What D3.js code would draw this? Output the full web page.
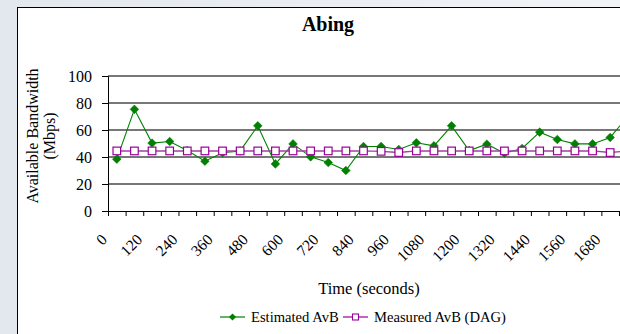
<!DOCTYPE html>
<html>
<head>
<meta charset="utf-8">
<script src="https://cdn.jsdelivr.net/npm/d3@7"></script>
<style>
  html, body { margin: 0; padding: 0; background: #e8ecf1; }
  svg { display: block; }
  text { font-family: "Liberation Serif", "Times New Roman", serif; fill: #000; }
</style>
</head>
<body>
<svg id="chart" width="620" height="334"></svg>
<script>
// Sampling times (seconds), one category per minute
const times = [0, 60, 120, 180, 240, 300, 360, 420, 480, 540, 600, 660, 720, 780, 840,
               900, 960, 1020, 1080, 1140, 1200, 1260, 1320, 1380, 1440, 1500, 1560, 1620, 1680, 1740];

// Available bandwidth estimated by Abing (Mbps)
const estimatedAvB = [38.4, 75.3, 50.3, 51.5, 44.8, 36.9, 43.1, 44.5, 63.1, 34.9,
                      49.7, 40.1, 35.9, 30.0, 47.8, 47.8, 45.6, 50.5, 48.3, 63.1,
                      44.8, 49.5, 42.8, 46.3, 58.4, 53.0, 49.7, 49.7, 54.5, 70.0];

// Available bandwidth measured with the DAG card (Mbps)
const measuredAvB = [44.5, 44.5, 44.5, 44.5, 44.5, 44.5, 44.5, 44.5, 44.5, 44.5,
                     44.5, 44.5, 44.5, 44.5, 44.5, 44.2, 43.3, 44.5, 44.5, 44.5,
                     44.5, 44.5, 44.5, 44.5, 44.5, 44.5, 44.5, 44.5, 43.3, 44.5];

const yTicks = [0, 20, 40, 60, 80, 100];
const xLabelEvery = 2;

const svg = d3.select("#chart");
const W = 620, H = 334;

// page background and chart frame
const defs = svg.append("defs");
const bg = defs.append("linearGradient").attr("id", "bg").attr("x1", 0).attr("x2", 1).attr("y1", 0).attr("y2", 0);
bg.append("stop").attr("offset", "0").attr("stop-color", "#e3e8ee");
bg.append("stop").attr("offset", "1").attr("stop-color", "#f1f4f7");
svg.append("rect").attr("width", W).attr("height", H).attr("fill", "url(#bg)");
svg.append("rect")
  .attr("x", 17.5).attr("y", 7.5).attr("width", 700).attr("height", 400)
  .attr("fill", "#fff").attr("stroke", "#000").attr("stroke-width", 1);

// plot geometry
const plotLeft = 108, plotTop = 76, plotBottom = 211;
const step = 17.62;
const plotRight = plotLeft + step * times.length;

const x = d3.scaleBand().domain(times).range([plotLeft, plotRight]).padding(0);
const xEdge = d3.scaleLinear().domain([0, times.length]).range([plotLeft, plotRight]);
const y = d3.scaleLinear().domain([0, 100]).range([plotBottom, plotTop]);
const cx = t => x(t) + x.bandwidth() / 2;

// horizontal gridlines
svg.append("g")
  .selectAll("line")
  .data(yTicks.filter(v => v > 0))
  .join("line")
  .attr("x1", plotLeft).attr("x2", plotRight)
  .attr("y1", d => y(d)).attr("y2", d => y(d))
  .attr("stroke", "#4a4a4a").attr("stroke-width", 1.4);

// y axis
const yAxis = svg.append("g")
  .attr("transform", `translate(${plotLeft},0)`)
  .call(d3.axisLeft(y).tickValues(yTicks).tickSize(6).tickPadding(10).tickFormat(d3.format("d")));
yAxis.select(".domain").attr("stroke", "#000");
yAxis.selectAll(".tick line").attr("stroke", "#000");
yAxis.selectAll("text")
  .style("font-family", '"Liberation Serif", serif')
  .style("font-size", "16px")
  .attr("fill", "#000");

// x axis: ticks on category boundaries
const xAxis = svg.append("g")
  .attr("transform", `translate(0,${plotBottom})`)
  .call(d3.axisBottom(xEdge).tickValues(d3.range(0, times.length + 1)).tickSize(5).tickFormat(""));
xAxis.select(".domain").attr("stroke", "#000");
xAxis.selectAll(".tick line").attr("stroke", "#000");

// rotated category labels
svg.append("g")
  .selectAll("text")
  .data(times.filter((t, i) => i % xLabelEvery === 0))
  .join("text")
  .attr("transform", d => `translate(${x(d)},${plotBottom + 29.5}) rotate(-45)`)
  .attr("text-anchor", "end")
  .style("font-size", "15.5px")
  .text(d => d);

// series lines and markers
const clip = defs.append("clipPath").attr("id", "plotclip");
clip.append("rect").attr("x", 0).attr("y", 0).attr("width", W).attr("height", H);

const line = d3.line().x(d => cx(d.t)).y(d => y(d.v));
const est = times.map((t, i) => ({ t, v: estimatedAvB[i] }));
const meas = times.map((t, i) => ({ t, v: measuredAvB[i] }));

const series = svg.append("g").attr("clip-path", "url(#plotclip)");

series.append("path")
  .datum(est)
  .attr("d", line)
  .attr("fill", "none")
  .attr("stroke", "#008000")
  .attr("stroke-width", 1.1);

const diamond = "M0,-4.3L4.3,0L0,4.3L-4.3,0Z";
series.append("g")
  .selectAll("path")
  .data(est)
  .join("path")
  .attr("d", diamond)
  .attr("transform", d => `translate(${cx(d.t)},${y(d.v)})`)
  .attr("fill", "#008000")
  .attr("stroke", "#008000")
  .attr("stroke-width", 0.6);

series.append("path")
  .datum(meas)
  .attr("d", line)
  .attr("fill", "none")
  .attr("stroke", "#a040a0")
  .attr("stroke-width", 1.4);

series.append("g")
  .selectAll("rect")
  .data(meas)
  .join("rect")
  .attr("x", d => cx(d.t) - 3.8)
  .attr("y", d => y(d.v) - 3.8)
  .attr("width", 7.6).attr("height", 7.6)
  .attr("fill", "#fff")
  .attr("stroke", "#990099")
  .attr("stroke-width", 1.2);

// titles
svg.append("text")
  .attr("x", 328).attr("y", 31)
  .attr("text-anchor", "middle")
  .style("font-size", "20px").style("font-weight", "bold")
  .text("Abing");

const yTitle = svg.append("text")
  .attr("transform", `translate(0,136) rotate(-90)`)
  .attr("text-anchor", "middle")
  .style("font-size", "16px");
yTitle.append("tspan").attr("x", 0).attr("y", 38).text("Available Bandwidth");
yTitle.append("tspan").attr("x", 0).attr("y", 55).text("(Mbps)");

svg.append("text")
  .attr("x", 369).attr("y", 294)
  .attr("text-anchor", "middle")
  .style("font-size", "16.5px")
  .text("Time (seconds)");

// legend
const legendY = 317;
const legend = svg.append("g");
const items = [
  { label: "Estimated AvB", x0: 220, color: "#008000", marker: "diamond" },
  { label: "Measured AvB (DAG)", x0: 343, color: "#990099", marker: "square" }
];
items.forEach(it => {
  const g = legend.append("g");
  g.append("line")
    .attr("x1", it.x0).attr("x2", it.x0 + 25)
    .attr("y1", legendY).attr("y2", legendY)
    .attr("stroke", it.color).attr("stroke-width", 1.2);
  if (it.marker === "diamond") {
    g.append("path").attr("d", "M0,-3.6L3.6,0L0,3.6L-3.6,0Z")
      .attr("transform", `translate(${it.x0 + 12.5},${legendY})`)
      .attr("fill", it.color);
  } else {
    g.append("rect")
      .attr("x", it.x0 + 12.5 - 3).attr("y", legendY - 3)
      .attr("width", 6).attr("height", 6)
      .attr("fill", "#fff").attr("stroke", it.color).attr("stroke-width", 1.1);
  }
  g.append("text")
    .attr("x", it.x0 + 31).attr("y", legendY + 5)
    .style("font-size", "14.6px")
    .text(it.label);
});
</script>
</body>
</html>
